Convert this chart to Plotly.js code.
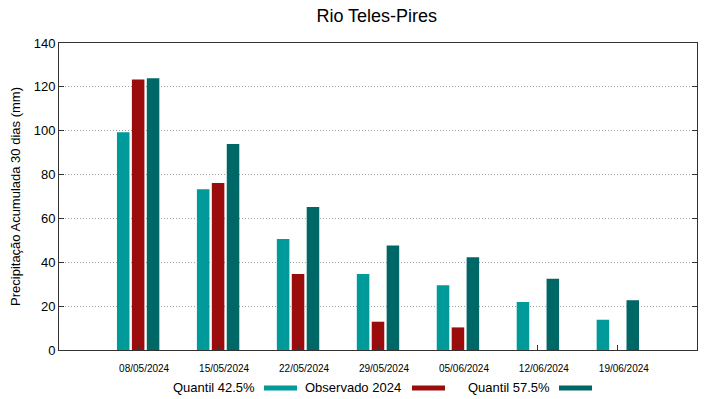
<!DOCTYPE html>
<html>
<head>
<meta charset="utf-8">
<script src="https://cdn.plot.ly/plotly-3.0.1.min.js"></script>
<style>html,body{margin:0;padding:0;background:#fff;}#chart{width:719px;height:399px;}</style>
</head>
<body>
<div id="chart"></div>
<script>
const categories = ["08/05/2024","15/05/2024","22/05/2024","29/05/2024","05/06/2024","12/06/2024","19/06/2024"];
const quantil425 = [99.3, 73.3, 50.6, 34.7, 29.5, 21.9, 13.8];
const observado2024 = [123.4, 76.1, 34.7, 12.9, 10.3, null, null];
const quantil575 = [123.9, 93.9, 65.2, 47.7, 42.3, 32.5, 22.7];
const seriesNames = ["Quantil 42.5%", "Observado 2024", "Quantil 57.5%"];
const colors = ["#009a9a", "#9b0d0d", "#006767"];

const font = "Liberation Sans, Arial, sans-serif";
const data = [quantil425, observado2024, quantil575].map((v, i) => ({
  type: "bar", x: categories, y: v, name: seriesNames[i],
  marker: {color: colors[i], line: {width: 0}}, showlegend: false
}));

const legendText = [{x: 257, sx: 264}, {x: 403, sx: 412}, {x: 552, sx: 559}];
const annotations = legendText.map((p, i) => ({
  xref: "paper", yref: "paper", x: (p.x - 59) / 638, y: -(387 - 350) / 307,
  text: seriesNames[i], showarrow: false, xanchor: "right", yanchor: "middle",
  font: {family: font, size: 13, color: "#000"}
}));
const shapes = legendText.map((p, i) => ({
  type: "rect", xref: "paper", yref: "paper",
  x0: (p.sx - 59) / 638, x1: (p.sx + 33 - 59) / 638,
  y0: -(390.5 - 350) / 307, y1: -(385.5 - 350) / 307,
  fillcolor: colors[i], line: {width: 0}
}));

const layout = {
  width: 719, height: 399,
  margin: {l: 59, r: 22, t: 43, b: 49},
  paper_bgcolor: "#fff", plot_bgcolor: "#fff",
  font: {family: font, size: 13, color: "#000"},
  title: {text: "Rio Teles-Pires", x: 0.524, xanchor: "center", y: 0.96, yanchor: "middle", font: {family: font, size: 18, color: "#000"}},
  barmode: "group", bargap: 0.44, bargroupgap: 0.16,
  xaxis: {
    type: "category", range: [-0.99, 6.99],
    showline: true, linecolor: "#333", linewidth: 1, mirror: true,
    ticks: "inside", ticklen: 5, tickcolor: "#333",
    ticklabelstandoff: 9, ticklabelshift: 6,
    showgrid: false, tickfont: {family: font, size: 10, color: "#000"}
  },
  yaxis: {
    range: [0, 140], dtick: 20,
    showline: true, linecolor: "#333", linewidth: 1, mirror: "ticks",
    ticks: "inside", ticklen: 5, tickcolor: "#333",
    showgrid: true, gridcolor: "#a0a0a0", griddash: "1px,2px", gridwidth: 1,
    zeroline: false,
    tickfont: {family: font, size: 13, color: "#000"},
    title: {text: "Precipitação Acumulada 30 dias (mm)", font: {family: font, size: 13, color: "#000"}, standoff: 10}
  },
  annotations: annotations, shapes: shapes
};
Plotly.newPlot("chart", data, layout, {displayModeBar: false, staticPlot: true});
</script>
</body>
</html>
